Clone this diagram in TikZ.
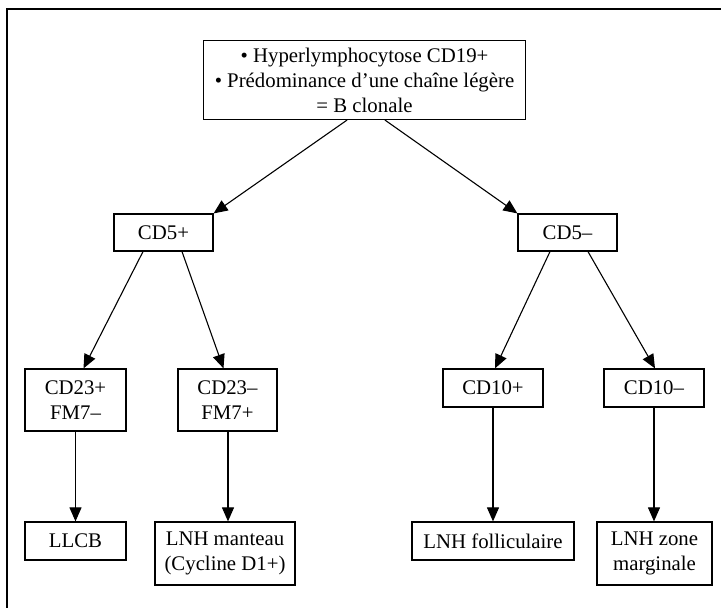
\documentclass[tikz,border=0pt]{standalone}
\usepackage{fontspec}
\setmainfont{Liberation Serif}
\usetikzlibrary{arrows.meta,calc}
\tikzset{
  box/.style={draw, line width=1.2pt, align=center, inner sep=0pt,
    font=\fontsize{20.8}{25}\selectfont},
  link/.style={line width=1.1pt, -{Triangle[length=14pt,width=12pt]}}
}
\begin{document}
\begin{tikzpicture}[x=1pt,y=-1pt]
\useasboundingbox (0,0) rectangle (721,608);
% outer frame (only the top and left edges fall inside the page)
\draw[line width=1.6pt] (7,640) -- (7,9) -- (760,9);

% nodes
\node[box, minimum width=322, minimum height=79] (top) at (364.5,80)
  {• Hyperlymphocytose CD19+\\• Prédominance d’une chaîne légère\\= B clonale};
\node[box, minimum width=99, minimum height=37] (cdp) at (163.5,232.5) {CD5+};
\node[box, minimum width=99, minimum height=37] (cdm) at (567.5,232.5) {CD5–};
\node[box, minimum width=101, minimum height=62] (c23p) at (75.5,400) {CD23+\\FM7–};
\node[box, minimum width=99, minimum height=62] (c23m) at (227.5,400) {CD23–\\FM7+};
\node[box, minimum width=100, minimum height=38] (c10p) at (493,388) {CD10+};
\node[box, minimum width=100, minimum height=38] (c10m) at (654,388) {CD10–};
\node[box, minimum width=101, minimum height=38] (llcb) at (75.5,541) {LLCB};
\node[box, minimum width=140, minimum height=63] (mant) at (225,553.5) {LNH manteau\\(Cycline D1+)};
\node[box, minimum width=162, minimum height=38] (foll) at (493,541) {LNH folliculaire};
\node[box, minimum width=115, minimum height=63] (marg) at (654.5,553.5) {LNH zone\\marginale};

% connectors
\draw[link] ($(top.south)+(-17.5,0)$) -- (cdp.north east);
\draw[link] ($(top.south)+(20.5,0)$) -- (cdm.north west);
\draw[link] ($(cdp.south)+(-20.5,0)$) -- ($(c23p.north)+(8,0)$);
\draw[link] ($(cdp.south)+(18.5,0)$) -- ($(c23m.north)+(-4,0)$);
\draw[link] ($(cdm.south)+(-17.5,0)$) -- ($(c10p.north)+(2,0)$);
\draw[link] ($(cdm.south)+(20.5,0)$) -- ($(c10m.north)+(1,0)$);
\draw[link] (c23p.south) -- (c23p.south |- llcb.north);
\draw[link] ($(c23m.south)+(0.5,0)$) -- ($(c23m.south |- mant.north)+(0.5,0)$);
\draw[link] (c10p.south) -- (foll.north);
\draw[link] (c10m.south) -- (c10m.south |- marg.north);
\end{tikzpicture}
\end{document}
